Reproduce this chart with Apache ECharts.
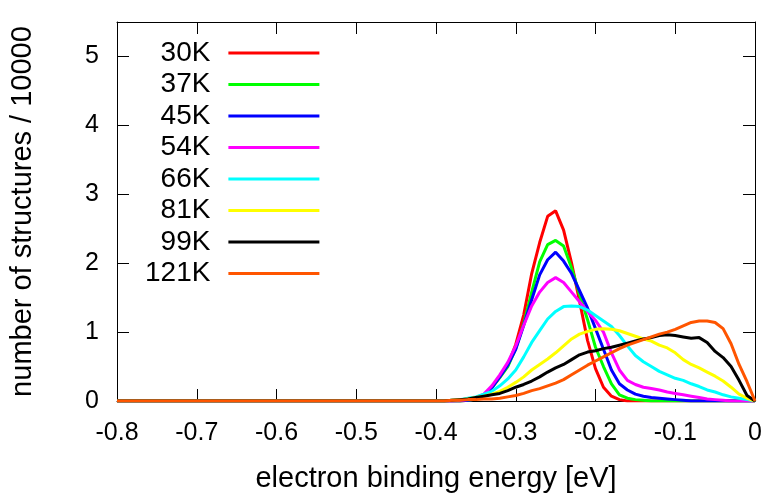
<!DOCTYPE html>
<html>
<head>
<meta charset="utf-8">
<script src="https://cdn.jsdelivr.net/npm/echarts@6/dist/echarts.min.js"></script>
<style>
  html, body { margin: 0; padding: 0; background: #fff; }
  #chart { width: 770px; height: 498px; }
</style>
</head>
<body>
<div id="chart"></div>
<script>
// binding energy [eV] of each histogram point
var energy = [-0.8,
  -0.40, -0.39, -0.38, -0.37, -0.36, -0.35, -0.34, -0.33, -0.32, -0.31,
  -0.30, -0.29, -0.28, -0.27, -0.26, -0.25, -0.24, -0.23, -0.22, -0.21,
  -0.20, -0.19, -0.18, -0.17, -0.16, -0.15, -0.14, -0.13, -0.12, -0.11,
  -0.10, -0.09, -0.08, -0.07, -0.06, -0.05, -0.04, -0.03, -0.02, -0.01, 0.00];

var temps = ['30K', '37K', '45K', '54K', '66K', '81K', '99K', '121K'];
var colors = ['#ff0000', '#00ff00', '#0000ff', '#ff00ff', '#00ffff', '#ffff00', '#000000', '#ff5500'];

// number of structures / 10000
var k30 = [0,
  0, 0, 0, 0, 0.01, 0.03, 0.09, 0.2, 0.36, 0.52,
  0.82, 1.25, 1.85, 2.3, 2.68, 2.76, 2.48, 2.0, 1.45, 0.88,
  0.47, 0.2, 0.07, 0.02, 0, 0, 0, 0, 0, 0,
  0, 0, 0, 0, 0, 0, 0, 0, 0, 0, 0];
var k37 = [0,
  0, 0, 0, 0, 0.01, 0.03, 0.08, 0.19, 0.34, 0.5,
  0.76, 1.12, 1.58, 2.02, 2.27, 2.33, 2.25, 1.93, 1.55, 1.18,
  0.78, 0.5, 0.25, 0.09, 0.04, 0.02, 0.01, 0, 0, 0,
  0, 0, 0, 0, 0, 0, 0, 0, 0, 0, 0];
var k45 = [0,
  0, 0, 0, 0, 0.01, 0.03, 0.08, 0.19, 0.35, 0.52,
  0.75, 1.1, 1.47, 1.83, 2.05, 2.16, 2.03, 1.85, 1.6, 1.35,
  1.05, 0.75, 0.45, 0.25, 0.16, 0.1, 0.07, 0.05, 0.04, 0.03,
  0.02, 0.01, 0, 0, 0, 0, 0, 0, 0, 0, 0];
var k54 = [0,
  0, 0, 0, 0.01, 0.02, 0.05, 0.1, 0.22, 0.38, 0.56,
  0.8, 1.1, 1.38, 1.58, 1.72, 1.79, 1.72, 1.58, 1.44, 1.3,
  1.17, 1.0, 0.7, 0.45, 0.3, 0.24, 0.2, 0.18, 0.16, 0.13,
  0.11, 0.09, 0.07, 0.05, 0.03, 0.02, 0.01, 0, 0, 0, 0];
var k66 = [0,
  0, 0, 0.01, 0.02, 0.04, 0.06, 0.1, 0.14, 0.22, 0.32,
  0.45, 0.64, 0.85, 1.02, 1.19, 1.3, 1.37, 1.38, 1.37, 1.32,
  1.24, 1.16, 1.08, 0.95, 0.8, 0.66, 0.57, 0.5, 0.43, 0.38,
  0.33, 0.3, 0.25, 0.21, 0.16, 0.13, 0.09, 0.06, 0.04, 0.02, 0];
var k81 = [0,
  0, 0, 0.01, 0.02, 0.03, 0.05, 0.07, 0.1, 0.14, 0.2,
  0.27, 0.35, 0.45, 0.53, 0.61, 0.7, 0.8, 0.9, 0.97, 1.01,
  1.04, 1.05, 1.04, 1.02, 0.98, 0.94, 0.9, 0.87, 0.81, 0.77,
  0.7, 0.6, 0.53, 0.48, 0.42, 0.36, 0.29, 0.2, 0.1, 0.04, 0];
var k99 = [0,
  0, 0, 0.01, 0.02, 0.03, 0.05, 0.07, 0.09, 0.11, 0.15,
  0.2, 0.24, 0.29, 0.35, 0.42, 0.48, 0.53, 0.6, 0.67, 0.71,
  0.73, 0.76, 0.78, 0.81, 0.84, 0.87, 0.9, 0.92, 0.95, 0.96,
  0.95, 0.93, 0.91, 0.92, 0.85, 0.72, 0.63, 0.5, 0.3, 0.08, 0];
var k121 = [0,
  0, 0, 0.01, 0.01, 0.02, 0.02, 0.03, 0.03, 0.04, 0.06,
  0.08, 0.11, 0.15, 0.18, 0.22, 0.26, 0.31, 0.38, 0.45, 0.52,
  0.58, 0.64, 0.7, 0.76, 0.81, 0.85, 0.89, 0.93, 0.97, 1.0,
  1.04, 1.09, 1.14, 1.16, 1.16, 1.14, 1.05, 0.83, 0.53, 0.28, 0];

var values = [k30, k37, k45, k54, k66, k81, k99, k121];

var font = 'Liberation Sans, Arial, sans-serif';

var series = temps.map(function (name, i) {
  return {
    name: name,
    type: 'line',
    showSymbol: false,
    lineStyle: { width: 3, color: colors[i] },
    itemStyle: { color: colors[i] },
    data: energy.map(function (x, j) { return [x, values[i][j]]; })
  };
});

var tickStyle = { show: true, inside: true, length: 12, lineStyle: { color: '#000', width: 1 } };
var lineStyle = { show: true, onZero: false, lineStyle: { color: '#000', width: 1 } };

var chart = echarts.init(document.getElementById('chart'));
chart.setOption({
  animation: false,
  backgroundColor: '#fff',
  grid: { left: 115, right: 15, top: 22, bottom: 96 },
  legend: {
    data: temps,
    orient: 'vertical',
    align: 'right',
    left: 145,
    top: 39,
    padding: 0,
    itemGap: 3.5,
    itemWidth: 91,
    itemHeight: 3,
    icon: 'rect',
    textStyle: { fontFamily: font, fontSize: 28, lineHeight: 28, color: '#000', padding: [0, 13, 0, 0] }
  },
  xAxis: [{
    type: 'value', min: -0.8, max: 0, interval: 0.1,
    name: 'electron binding energy [eV]', nameLocation: 'middle', nameGap: 63,
    nameTextStyle: { fontFamily: font, fontSize: 29, color: '#000' },
    axisLine: lineStyle, axisTick: tickStyle, splitLine: { show: false },
    axisLabel: { fontFamily: font, fontSize: 25, color: '#000', margin: 20 }
  }, {
    type: 'value', position: 'top', min: -0.8, max: 0, interval: 0.1,
    axisLine: lineStyle, axisTick: tickStyle, splitLine: { show: false },
    axisLabel: { show: false }
  }],
  yAxis: [{
    type: 'value', min: 0, max: 5.5, interval: 1,
    name: 'number of structures / 10000', nameLocation: 'middle', nameGap: 80,
    nameTextStyle: { fontFamily: font, fontSize: 29, color: '#000' },
    axisLine: lineStyle, axisTick: tickStyle, splitLine: { show: false },
    axisLabel: { fontFamily: font, fontSize: 25, color: '#000', margin: 18, showMaxLabel: false }
  }, {
    type: 'value', position: 'right', min: 0, max: 5.5, interval: 1,
    axisLine: lineStyle, axisTick: tickStyle, splitLine: { show: false },
    axisLabel: { show: false }
  }],
  series: series
});
</script>
</body>
</html>
